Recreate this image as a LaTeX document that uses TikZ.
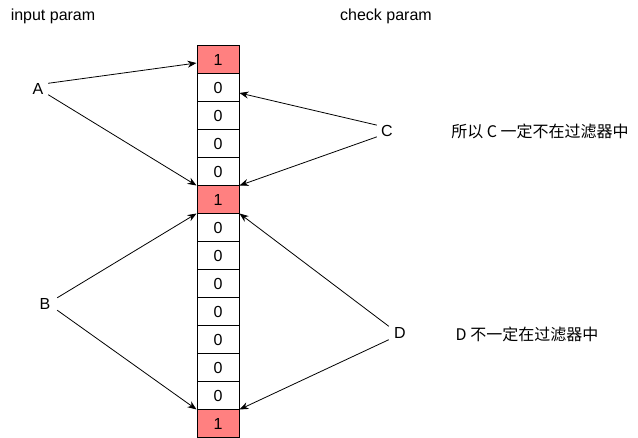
\documentclass[tikz,border=0pt]{standalone}
\usepackage{fontspec}
\setmainfont{Liberation Sans}
\newfontfamily\cjk{Noto Sans CJK SC}
\usetikzlibrary{arrows.meta}
\definecolor{hitred}{RGB}{255,128,128}

\begin{document}
\begin{tikzpicture}[x=1pt, y=-1pt, every node/.style={font=\fontsize{16}{19}\selectfont},
  cell/.style={draw, rectangle, line width=1pt, minimum width=42pt, minimum height=28pt, inner sep=0pt},
  key/.style={inner sep=0pt, minimum width=20pt, minimum height=10pt},
  link/.style={-{Stealth[length=9pt, width=7pt]}, line width=0.8pt}]
  \useasboundingbox (0,0) rectangle (638,438);
  \node (inp) at (53,16) {input param};
  \node (chk) at (386,16) {check param};
  \foreach \v/\f [count=\i] in {1/hitred, 0/white, 0/white, 0/white, 0/white, 1/hitred, 0/white,
      0/white, 0/white, 0/white, 0/white, 0/white, 0/white, 1/hitred}
    \node[cell, fill=\f] (c\i) at (218, 32+28*\i) {\v};
  \node[key] (A) at (38,89) {A};
  \node[key, minimum width=24pt, minimum height=12pt] (B) at (45,304) {B};
  \node[key] (C) at (387,131) {C};
  \node[key, minimum width=22pt, minimum height=13pt] (D) at (400,333) {D};
  \node (noC) at (540,131) {\cjk 所以 C 一定不在过滤器中};
  \node (maybeD) at (527,334) {\cjk D 不一定在过滤器中};
  \draw[link] (A.north east) -- ([yshift=-3pt]c1.west);
  \draw[link] (A.south east) -- (c6.north west);
  \draw[link] (B.north east) -- (c7.north west);
  \draw[link] (B.south east) -- (c14.north west);
  \draw[link] (C.north west) -- ([yshift=-5pt]c2.east);
  \draw[link] (C.south west) -- (c6.north east);
  \draw[link] (D.north west) -- (c7.north east);
  \draw[link] (D.south west) -- (c14.north east);
\end{tikzpicture}
\end{document}
